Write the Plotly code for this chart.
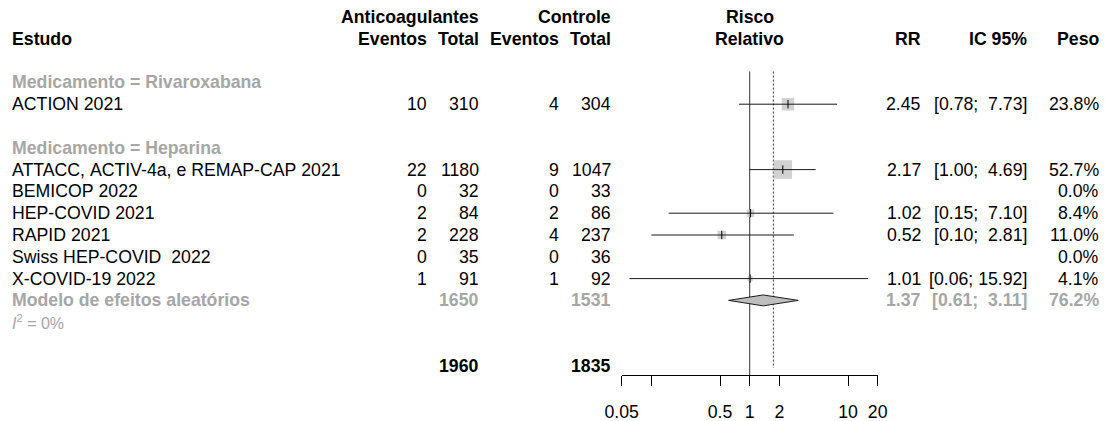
import math
import plotly.graph_objects as go

# ---- data -------------------------------------------------------------
studies = ["ACTION 2021", "ATTACC, ACTIV-4a, e REMAP-CAP 2021", "BEMICOP 2022",
           "HEP-COVID 2021", "RAPID 2021", "Swiss HEP-COVID  2022", "X-COVID-19 2022"]
subgroup = ["Rivaroxabana", "Heparina", "Heparina", "Heparina", "Heparina",
            "Heparina", "Heparina"]
ev_antic = [10, 22, 0, 2, 2, 0, 1]
n_antic = [310, 1180, 32, 84, 228, 35, 91]
ev_ctrl = [4, 9, 0, 2, 4, 0, 1]
n_ctrl = [304, 1047, 33, 86, 237, 36, 92]
rr = [2.45, 2.17, None, 1.02, 0.52, None, 1.01]
ci_low = [0.78, 1.00, None, 0.15, 0.10, None, 0.06]
ci_high = [7.73, 4.69, None, 7.10, 2.81, None, 15.92]
peso = [23.8, 52.7, 0.0, 8.4, 11.0, 0.0, 4.1]

# random-effects model for the Heparina subgroup
pool_rr, pool_low, pool_high, pool_peso = 1.37, 0.61, 3.11, 76.2
i2 = 0
overall_rr = 1.74  # overall estimate (dotted reference line)

tick_vals = [0.05, 0.5, 1, 2, 10, 20]
tick_text = ["0.05", "0.5", "1", "2", "10", "20"]
minor_tick_vals = [0.1]

# ---- layout constants (pixels) ---------------------------------------
W, H = 1115, 421
ROW0, ROW_H = 17.0, 21.8      # centre of first header row, row height
AXIS_PX = 375.0               # vertical position of the x axis line
PLOT_X0, PLOT_X1 = 621.7, 877.7
FS = 17.7
FONT = "Liberation Sans, Arial, sans-serif"
GRAY_TXT = "#A6A6A6"
SQ_COL = "#BEBEBE"
SQ_MAX = 18.5

col = dict(study=11, ev_a=428, n_a=480, ev_c=560, n_c=612,
           forest=749.7, rr=922, ci=1028, peso=1100)


def nb(s):
    return s.replace(" ", "\u00a0")


annotations = []


def txt(x_px, row, s, anchor="right", bold=False, color="#000000", size=FS):
    if bold:
        s = "<b>" + s + "</b>"
    annotations.append(dict(
        x=x_px / W, xref="paper", y=row, yref="y", text=nb(s),
        xanchor=anchor, yanchor="middle", showarrow=False, borderpad=0,
        font=dict(family=FONT, size=size, color=color)))


# header
txt(col["n_a"], 0, "Anticoagulantes", bold=True)
txt(col["n_c"], 0, "Controle", bold=True)
txt(col["forest"], 0, "Risco", anchor="center", bold=True)
txt(col["study"], 1, "Estudo", anchor="left", bold=True)
txt(col["ev_a"], 1, "Eventos", bold=True)
txt(col["n_a"], 1, "Total", bold=True)
txt(col["ev_c"], 1, "Eventos", bold=True)
txt(col["n_c"], 1, "Total", bold=True)
txt(col["forest"], 1, "Relativo", anchor="center", bold=True)
txt(col["rr"], 1, "RR", bold=True)
txt(col["ci"], 1, "IC 95%", bold=True)
txt(col["peso"], 1, "Peso", bold=True)

# rows of the table
rows = []
row = 3
current = None
for i, name in enumerate(studies):
    if subgroup[i] != current:
        if current is not None:
            row += 1
        current = subgroup[i]
        txt(col["study"], row, "Medicamento = " + current, anchor="left",
            bold=True, color=GRAY_TXT)
        row += 1
    rows.append(row)
    txt(col["study"], row, name, anchor="left")
    txt(col["ev_a"], row, str(ev_antic[i]))
    txt(col["n_a"], row, str(n_antic[i]))
    txt(col["ev_c"], row, str(ev_ctrl[i]))
    txt(col["n_c"], row, str(n_ctrl[i]))
    if rr[i] is not None:
        txt(col["rr"], row, f"{rr[i]:.2f}")
        txt(col["ci"], row, f"[{ci_low[i]:.2f}; {ci_high[i]:5.2f}]")
    txt(col["peso"], row, f"{peso[i]:.1f}%")
    row += 1

hep = [i for i, g in enumerate(subgroup) if g == "Heparina"]
pool_row = row
txt(col["study"], pool_row, "Modelo de efeitos aleatórios", anchor="left",
    bold=True, color=GRAY_TXT)
txt(col["n_a"], pool_row, str(sum(n_antic[i] for i in hep)), bold=True, color=GRAY_TXT)
txt(col["n_c"], pool_row, str(sum(n_ctrl[i] for i in hep)), bold=True, color=GRAY_TXT)
txt(col["rr"], pool_row, f"{pool_rr:.2f}", bold=True, color=GRAY_TXT)
txt(col["ci"], pool_row, f"[{pool_low:.2f}; {pool_high:5.2f}]", bold=True, color=GRAY_TXT)
txt(col["peso"], pool_row, f"{pool_peso:.1f}%", bold=True, color=GRAY_TXT)
txt(col["study"], pool_row + 1, f"<i>I</i><sup>2</sup> = {i2}%", anchor="left",
    color=GRAY_TXT, size=16)

total_row = pool_row + 3
txt(col["n_a"], total_row, str(sum(n_antic)), bold=True)
txt(col["n_c"], total_row, str(sum(n_ctrl)), bold=True)

# ---- forest marks -----------------------------------------------------
fig = go.Figure()

has = [i for i in range(len(studies)) if rr[i] is not None]
wmax = max(peso)
fig.add_trace(go.Scatter(
    x=[rr[i] for i in has], y=[rows[i] for i in has], mode="markers",
    marker=dict(symbol="square", color=SQ_COL,
                size=[SQ_MAX * math.sqrt(peso[i] / wmax) for i in has],
                line=dict(width=0)),
    hoverinfo="skip"))

cx, cy = [], []
for i in has:
    cx += [ci_low[i], ci_high[i], None]
    cy += [rows[i], rows[i], None]
fig.add_trace(go.Scatter(x=cx, y=cy, mode="lines",
                         line=dict(color="#1a1a1a", width=1), hoverinfo="skip"))

fig.add_trace(go.Scatter(
    x=[rr[i] for i in has], y=[rows[i] for i in has], mode="markers",
    marker=dict(symbol="line-ns", size=6, line=dict(color="#000000", width=1)),
    hoverinfo="skip"))

dh = 0.25
fig.add_trace(go.Scatter(
    x=[pool_low, pool_rr, pool_high, pool_rr, pool_low],
    y=[pool_row, pool_row - dh, pool_row, pool_row + dh, pool_row],
    mode="lines", fill="toself", fillcolor=SQ_COL,
    line=dict(color="#1a1a1a", width=1), hoverinfo="skip"))

y_bottom = (AXIS_PX - ROW0) / ROW_H
y_top = -ROW0 / ROW_H
line_top = 2.5

shapes = [
    dict(type="line", xref="x", yref="y", x0=1, x1=1, y0=line_top, y1=y_bottom,
         line=dict(color="#333333", width=1), layer="below"),
    dict(type="line", xref="x", yref="y", x0=overall_rr, x1=overall_rr,
         y0=line_top, y1=total_row + 0.1,
         line=dict(color="#333333", width=1, dash="2px,2px"), layer="below"),
]

fig.update_layout(
    width=W, height=H, autosize=False,
    margin=dict(l=0, r=0, t=0, b=0, pad=0, autoexpand=False),
    paper_bgcolor="white", plot_bgcolor="white",
    showlegend=False,
    annotations=annotations, shapes=shapes,
    xaxis=dict(type="log", domain=[PLOT_X0 / W, PLOT_X1 / W],
               range=[math.log10(0.05), math.log10(20)],
               tickvals=tick_vals, ticktext=tick_text,
               ticks="outside", ticklen=10, tickcolor="#000000", tickwidth=1,
               ticklabelstandoff=11,
               minor=dict(tickvals=minor_tick_vals, ticks="outside", ticklen=10,
                          tickcolor="#000000", tickwidth=1, showgrid=False),
               showline=True, linecolor="#000000", linewidth=1,
               showgrid=False, zeroline=False, automargin=False,
               tickfont=dict(family=FONT, size=FS, color="#000000")),
    yaxis=dict(domain=[1 - AXIS_PX / H, 1], range=[y_bottom, y_top],
               visible=False, showgrid=False, zeroline=False, automargin=False),
)

fig.write_html("out.html")
